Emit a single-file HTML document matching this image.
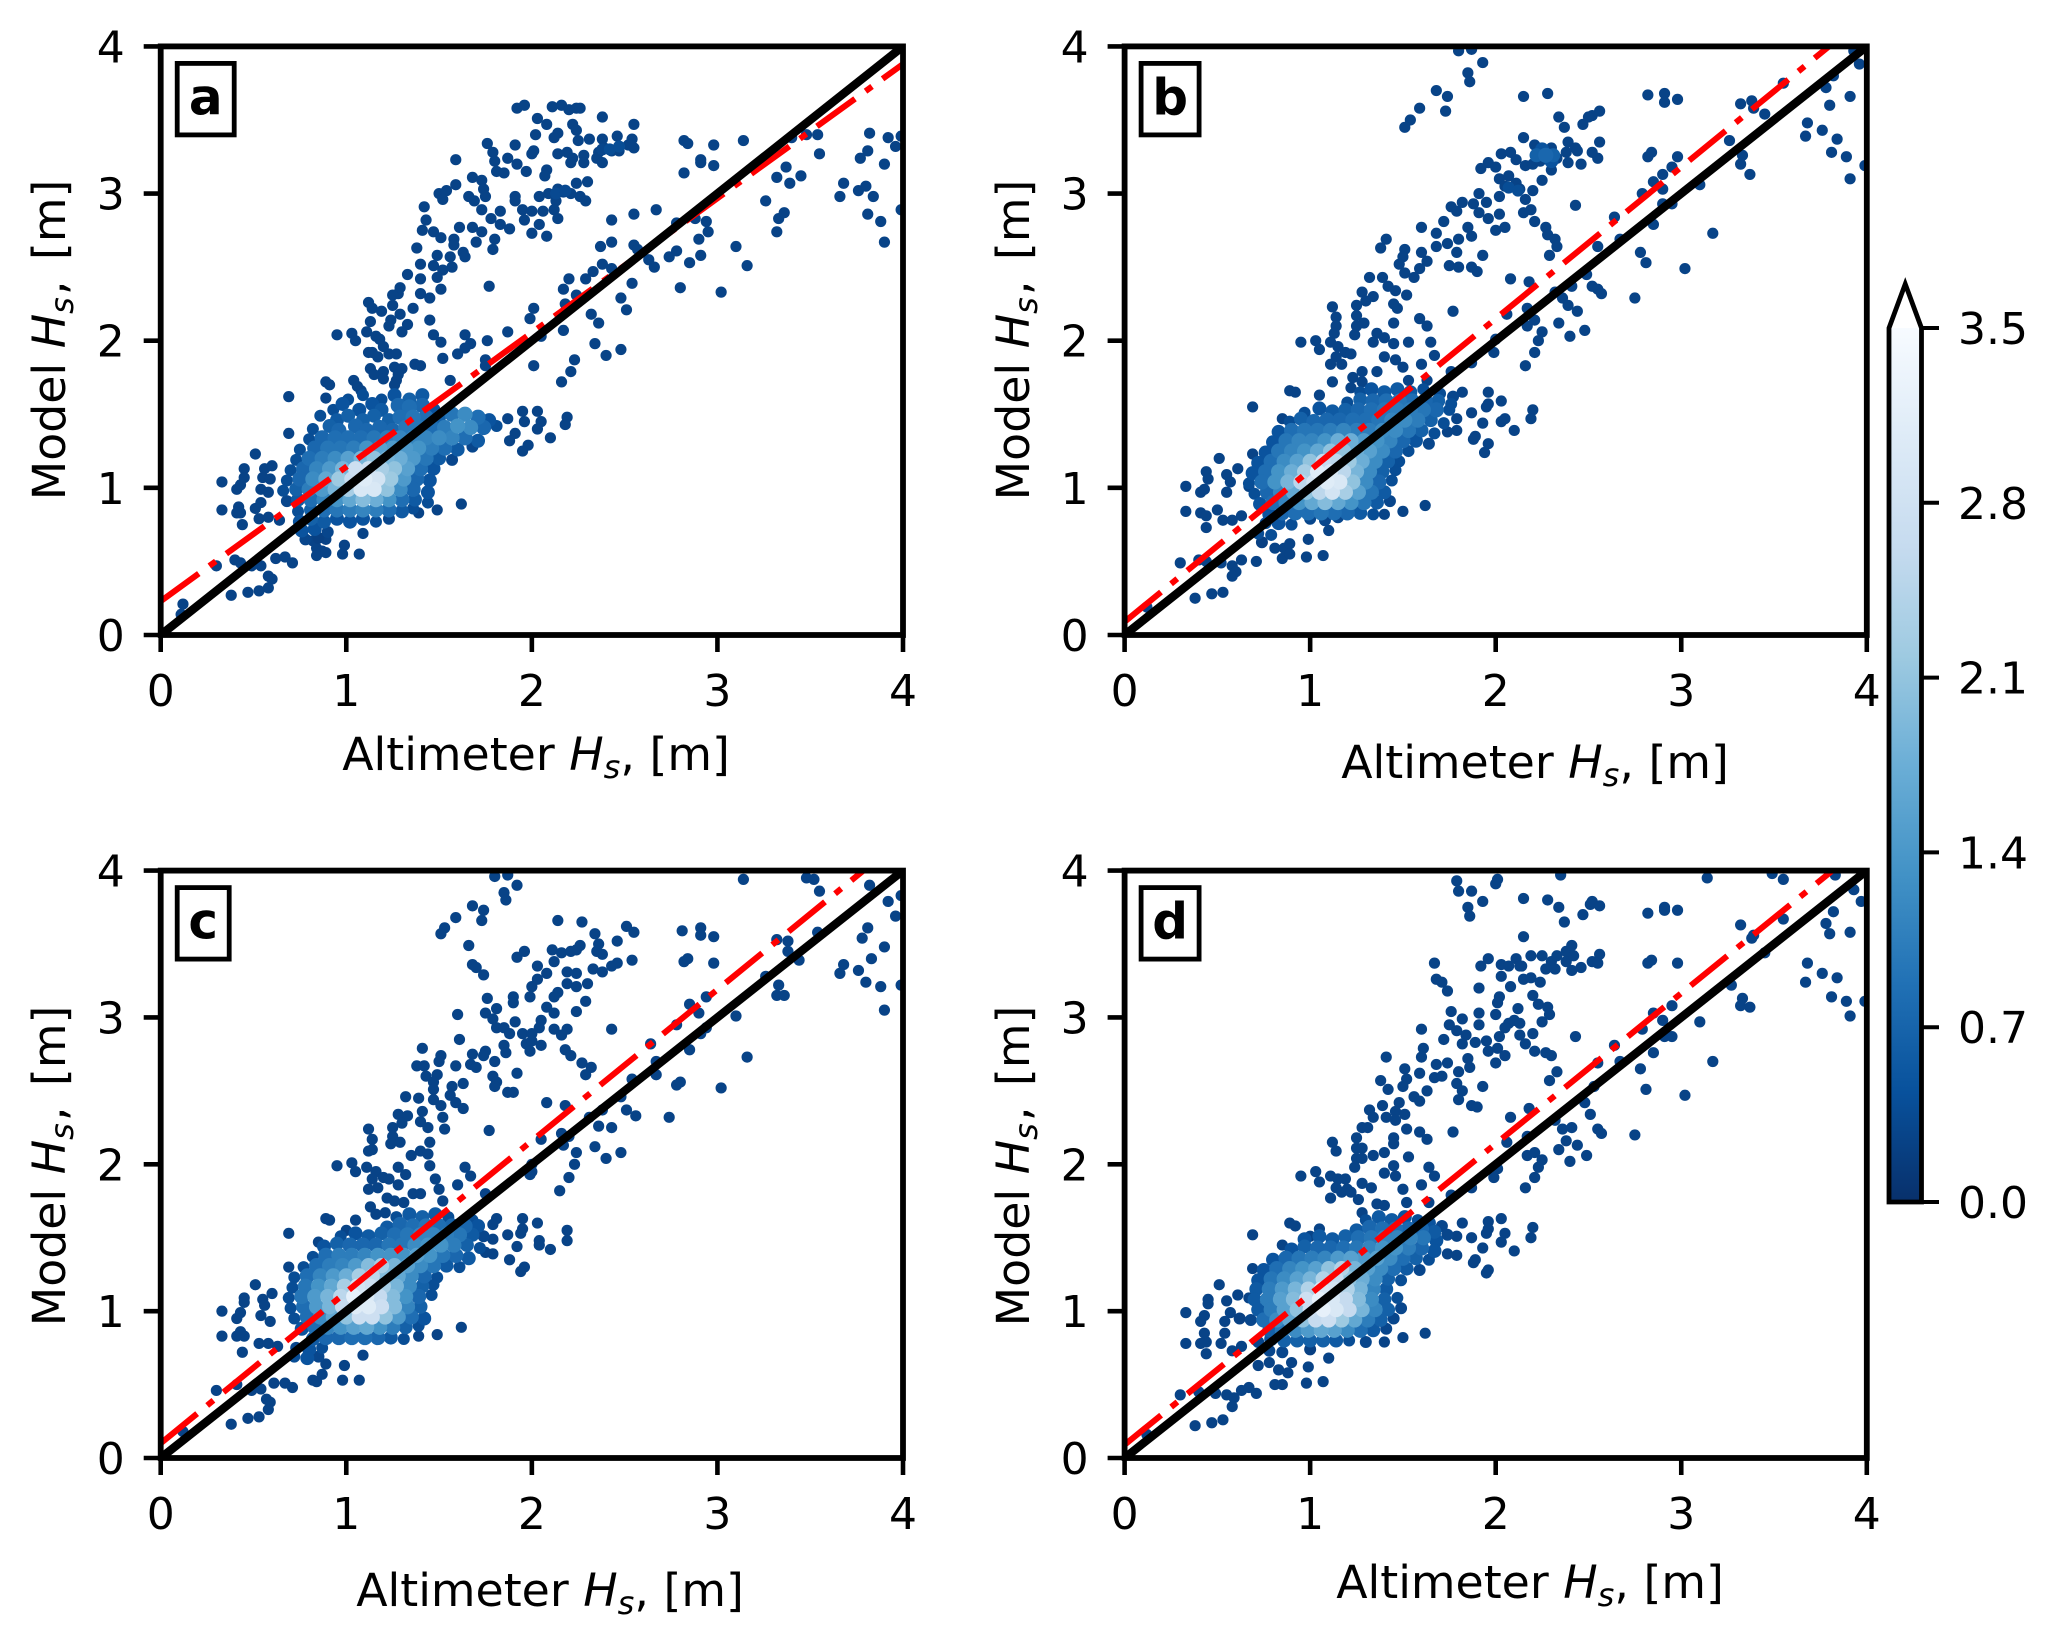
<!DOCTYPE html>
<html lang="en">
<head>
<meta charset="utf-8">
<title>Model vs altimeter significant wave height</title>
<style>
html,body{margin:0;padding:0;background:#fff;}
svg{display:block;}
text{font-family:"DejaVu Sans","Liberation Sans",sans-serif;fill:#000;}
</style>
</head>
<body>
<svg id="figure" xmlns="http://www.w3.org/2000/svg" width="2067" height="1636" viewBox="0 0 2067 1636">
<rect x="0" y="0" width="2067" height="1636" fill="#ffffff"/>
</svg>
<script>
const axisTicks = [0, 1, 2, 3, 4];
const axisMax = 4;
const colorbarTicks = ["0.0", "0.7", "1.4", "2.1", "2.8", "3.5"];
const colorbarMax = 3.5;
const outlierDensity = 0.25;
const cmapStops = ["#08306b", "#08519c", "#2171b5", "#4292c6", "#6baed6", "#9ecae1", "#c6dbef", "#deebf7", "#f7fbff"];

const fitInterceptA = 0.23, fitSlopeA = 0.9125;
const fitInterceptB = 0.09, fitSlopeB = 1.03;
const fitInterceptC = 0.10, fitSlopeC = 1.03;
const fitInterceptD = 0.09, fitSlopeD = 1.025;

const outliersA = [[1.92,3.58],[1.96,3.6],[2.11,3.59],[2.16,3.6],[2.2,3.57],[2.24,3.58],[2.26,3.58],[2.38,3.52],[2.03,3.51],[2.08,3.47],[2.22,3.47],[2.24,3.43],[2.55,3.47],[2.02,3.4],[2.14,3.41],[2.12,3.38],[2.46,3.39],[2.25,3.36],[2.31,3.37],[2.38,3.37],[2.54,3.37],[1.76,3.34],[1.91,3.33],[2.52,3.33],[2.55,3.31],[2.53,3.33],[2.39,3.31],[2.43,3.29],[2.36,3.28],[2.35,3.24],[2.47,3.29],[1.79,3.28],[1.8,3.22],[1.87,3.24],[2,3.27],[2.01,3.29],[2.14,3.27],[2.19,3.28],[2.28,3.26],[2.22,3.24],[2.21,3.21],[2.28,3.21],[2.38,3.21],[1.92,3.2],[1.59,3.23],[1.97,3.15],[1.81,3.15],[1.85,3.14],[2.08,3.16],[2.07,3.12],[1.68,3.11],[1.73,3.09],[1.59,3.06],[2.3,3.08],[2.24,3.07],[1.74,3.03],[2.14,3.03],[2.17,3.01],[2.09,3],[2.04,2.98],[2.21,3],[2.26,2.98],[2.29,2.95],[1.5,3],[1.54,3.02],[1.52,2.96],[1.66,2.98],[1.69,2.95],[1.75,2.98],[1.91,2.98],[1.91,2.95],[1.42,2.91],[2.13,2.95],[2.12,2.89],[2.14,2.83],[2.06,2.88],[1.95,2.89],[2,2.88],[1.83,2.88],[1.73,2.89],[1.43,2.82],[2.43,2.82],[1.96,2.82],[2.04,2.79],[1.78,2.83],[1.83,2.79],[1.88,2.76],[1.61,2.77],[1.68,2.77],[1.41,2.75],[1.47,2.74],[1.51,2.7],[1.73,2.74],[2,2.73],[2.08,2.71],[1.8,2.69],[1.7,2.67],[1.58,2.69],[1.58,2.65],[1.38,2.63],[1.79,2.62],[1.63,2.6],[1.64,2.57],[1.56,2.57],[1.49,2.58],[1.57,2.5],[1.4,2.52],[1.33,2.45],[1.47,2.51],[1.52,2.48],[1.49,2.43],[1.4,2.42],[1.51,2.35],[1.29,2.36],[1.28,2.32],[1.77,2.37],[1.4,2.32],[1.45,2.29],[1.25,2.31],[1.12,2.26],[1.25,2.24],[1.36,2.22],[1.14,2.22],[1.19,2.2],[1.29,2.18],[1.24,2.14],[1.45,2.14],[1.13,2.13],[1.33,2.11],[1.3,2.06],[1.11,2.06],[0.95,2.04],[1.03,2.05],[1.05,2],[1.23,2.1],[1.47,2.04],[1.64,2.04],[1.87,2.06],[1.16,2.03],[1.18,2.01],[1.2,1.96],[1.14,1.92],[1.23,1.91],[1.27,1.91],[1.12,1.92],[1.17,1.89],[1.51,1.99],[1.67,1.98],[1.64,1.95],[1.6,1.91],[1.52,1.88],[1.76,2],[1.37,1.84],[1.4,1.83],[1.75,1.87],[1.75,1.83],[1.26,1.82],[1.3,1.81],[1.13,1.81],[1.2,1.79],[1.15,1.77],[1.2,1.74],[1.28,1.77],[1.27,1.73],[1.26,1.7],[1.56,1.73],[0.89,1.72],[0.91,1.7],[1.04,1.73],[1.06,1.69],[1.08,1.66],[0.69,1.62],[0.89,1.61],[2.82,3.36],[2.84,3.34],[2.98,3.33],[3.14,3.36],[2.91,3.23],[2.91,3.21],[2.98,3.19],[2.82,3.14],[3.32,3.11],[3.37,3.18],[3.39,3.07],[3.45,3.12],[3.4,3.38],[3.48,3.4],[3.54,3.4],[3.55,3.27],[3.26,2.95],[3.33,2.83],[3.36,2.87],[3.32,2.74],[3.68,3.07],[3.66,2.98],[3.76,3.02],[3.8,3.05],[3.84,2.98],[3.81,2.86],[3.88,2.81],[3.9,2.67],[3.77,3.24],[3.81,3.29],[3.82,3.41],[3.92,3.38],[3.9,3.2],[3.96,3.32],[3.99,3.39],[3.99,2.89],[2.67,2.89],[2.55,2.86],[2.43,2.67],[2.37,2.64],[2.55,2.65],[2.57,2.62],[2.38,2.52],[2.33,2.47],[2.43,2.49],[2.2,2.42],[2.29,2.42],[2.17,2.35],[2.24,2.31],[2.18,2.25],[2.54,2.39],[2.48,2.29],[2.51,2.21],[2.32,2.18],[2.36,2.12],[2.17,2.07],[2.34,1.98],[2.48,1.94],[2.4,1.9],[2.23,1.87],[2.21,1.79],[2.16,1.72],[2.01,1.83],[1.99,2.15],[2.01,2.22],[2.05,2.03],[2.63,2.55],[2.66,2.5],[2.74,2.57],[2.78,2.61],[2.78,2.8],[2.88,2.83],[2.94,2.81],[2.9,2.69],[2.95,2.74],[2.91,2.58],[2.85,2.53],[2.8,2.36],[3.02,2.33],[3.1,2.64],[3.16,2.51],[1.87,1.47],[1.95,1.52],[2.03,1.52],[1.96,1.45],[2.05,1.45],[2.03,1.4],[1.91,1.37],[1.88,1.32],[1.98,1.29],[1.95,1.25],[2.19,1.48],[2.18,1.43],[2.1,1.34],[0.33,1.04],[0.33,0.85],[0.41,0.99],[0.43,1.02],[0.45,1.13],[0.45,1.07],[0.51,1.23],[0.56,1.13],[0.55,1.07],[0.6,1.15],[0.59,1.06],[0.54,0.99],[0.58,0.97],[0.42,0.87],[0.43,0.83],[0.41,0.83],[0.51,0.86],[0.54,0.9],[0.44,0.75],[0.53,0.79],[0.58,0.8],[0.64,0.78],[0.69,1.37],[0.3,0.47],[0.4,0.51],[0.43,0.49],[0.49,0.47],[0.54,0.47],[0.58,0.4],[0.6,0.38],[0.58,0.32],[0.53,0.3],[0.47,0.29],[0.38,0.27],[0.12,0.21],[0.11,0.14],[0.62,0.52],[0.67,0.53],[0.71,0.49],[0.89,0.65],[0.82,0.64],[0.84,0.59],[0.87,0.57],[0.84,0.54],[0.89,0.56],[0.99,0.61],[0.98,0.55],[1.07,0.55],[1.09,0.69],[1.62,0.89],[1.49,0.85],[1.39,0.83]];

const coreA = [[2.42,3.3,0.5],[2.47,3.32,0.5],[2.38,3.3,0.4],[2.13,3,0.45],[2.18,3.02,0.45],[1.01,1.6,0.5],[1.09,1.63,0.5],[1.19,1.6,0.5],[1.26,1.63,0.6],[1.34,1.6,0.8],[1.41,1.63,0.7],[0.93,1.53,0.5],[0.98,1.57,0.6],[1.07,1.53,0.6],[1.14,1.57,0.6],[1.19,1.53,0.7],[1.28,1.56,0.9],[1.34,1.55,1],[1.41,1.56,0.9],[1.47,1.53,0.6],[0.86,1.49,0.5],[0.95,1.46,0.7],[1.01,1.49,0.8],[1.09,1.46,0.8],[1.15,1.49,0.8],[1.23,1.46,0.8],[1.29,1.48,1],[1.36,1.48,1.1],[1.43,1.48,1],[1.5,1.48,0.8],[1.57,1.5,1.1],[1.64,1.5,1.4],[1.71,1.48,1],[1.77,1.46,0.6],[0.82,1.4,0.5],[0.91,1.42,0.8],[0.96,1.39,0.9],[1.05,1.42,0.9],[1.11,1.39,0.9],[1.18,1.41,0.9],[1.25,1.39,0.9],[1.32,1.41,1.1],[1.39,1.41,1.1],[1.46,1.41,1],[1.53,1.41,1.2],[1.6,1.42,1.5],[1.67,1.41,1.4],[1.74,1.41,0.9],[1.81,1.42,0.5],[0.8,1.33,0.5],[0.87,1.34,0.9],[0.94,1.34,1],[1.01,1.34,1],[1.08,1.34,1],[1.15,1.34,1.1],[1.22,1.34,1.2],[1.29,1.34,1.3],[1.36,1.34,1.3],[1.43,1.34,1.3],[1.5,1.34,1.4],[1.57,1.34,1.3],[1.64,1.34,1],[1.71,1.32,0.7],[0.75,1.26,0.5],[0.83,1.27,0.9],[0.9,1.27,1.1],[0.97,1.27,1.1],[1.04,1.27,1.2],[1.11,1.27,1.5],[1.18,1.27,1.7],[1.25,1.27,1.6],[1.32,1.27,1.6],[1.39,1.27,1.5],[1.46,1.27,1.2],[1.53,1.27,1],[1.6,1.26,0.7],[1.68,1.28,0.4],[0.73,1.19,0.5],[0.8,1.2,1],[0.87,1.2,1.2],[0.94,1.2,1.4],[1.01,1.2,1.7],[1.08,1.2,2],[1.15,1.2,2.2],[1.22,1.2,2],[1.29,1.2,1.9],[1.36,1.2,1.6],[1.43,1.2,1.1],[1.5,1.2,0.7],[1.57,1.19,0.4],[0.7,1.12,0.5],[0.77,1.13,0.9],[0.84,1.13,1.3],[0.91,1.13,1.6],[0.98,1.13,2],[1.05,1.13,2.8],[1.12,1.13,2.8],[1.19,1.13,2.4],[1.26,1.13,2.2],[1.33,1.13,1.7],[1.4,1.13,1],[1.47,1.13,0.6],[0.68,1.05,0.5],[0.75,1.06,0.9],[0.82,1.06,1.4],[0.89,1.06,1.8],[0.96,1.06,2.3],[1.03,1.06,2.7],[1.1,1.06,3.1],[1.17,1.06,2.9],[1.24,1.06,2.3],[1.31,1.06,1.6],[1.38,1.06,0.9],[1.45,1.05,0.6],[0.66,0.98,0.5],[0.73,0.99,0.8],[0.8,0.99,1.2],[0.87,0.99,1.6],[0.94,0.99,2],[1.01,0.99,2.4],[1.08,0.99,3],[1.15,0.99,3],[1.22,0.99,2.2],[1.29,0.99,1.4],[1.36,0.99,0.9],[1.44,0.97,0.6],[0.68,0.91,0.4],[0.74,0.92,0.7],[0.81,0.92,1],[0.88,0.92,1.3],[0.95,0.92,1.5],[1.02,0.92,1.8],[1.09,0.92,2.1],[1.16,0.92,1.9],[1.23,0.92,1.5],[1.3,0.92,1],[1.37,0.92,0.7],[1.44,0.9,0.5],[0.74,0.84,0.5],[0.81,0.85,0.8],[0.88,0.85,1],[0.95,0.85,1.1],[1.02,0.85,1.2],[1.09,0.85,1.3],[1.16,0.85,1.2],[1.23,0.85,1],[1.3,0.84,0.7],[1.36,0.86,0.5],[0.75,0.77,0.6],[0.81,0.79,0.8],[0.88,0.77,0.7],[0.95,0.79,0.6],[1.02,0.77,0.6],[1.09,0.79,0.6],[1.16,0.77,0.5],[1.23,0.79,0.4],[0.76,0.71,0.6],[0.83,0.72,0.6],[0.9,0.7,0.4],[0.78,0.65,0.4],[0.85,0.66,0.3]];

const outliersB = [[1.8,3.97],[1.87,3.98],[1.93,3.89],[1.85,3.82],[1.86,3.76],[1.68,3.7],[1.74,3.66],[1.73,3.56],[1.59,3.58],[1.54,3.5],[1.51,3.45],[2.15,3.66],[2.28,3.68],[2.34,3.52],[2.37,3.45],[2.47,3.47],[2.52,3.53],[2.5,3.52],[2.56,3.56],[2.82,3.67],[2.91,3.68],[2.91,3.62],[2.98,3.64],[3.32,3.61],[3.38,3.63],[3.39,3.58],[3.45,3.54],[3.55,3.75],[3.82,3.8],[3.78,3.72],[3.8,3.6],[3.91,3.66],[3.96,3.88],[3.93,3.97],[3.68,3.48],[3.67,3.39],[3.76,3.43],[3.84,3.37],[3.81,3.28],[3.89,3.25],[3.91,3.1],[3.99,3.19],[3.26,3.36],[3.33,3.26],[3.32,3.2],[3.37,3.13],[3.1,3.06],[3.17,2.73],[3.02,2.49],[2.75,2.29],[2.78,2.6],[2.81,2.53],[2.85,2.79],[2.9,3.03],[2.9,2.93],[2.95,2.93],[2.85,3.08],[2.79,3],[2.82,3.25],[2.84,3.28],[2.98,3.25],[2.95,3.18],[2.9,3.13],[2.15,3.38],[2.21,3.33],[2.25,3.28],[2.3,3.31],[2.28,3.24],[2.33,3.24],[2.39,3.35],[2.43,3.31],[2.38,3.28],[2.44,3.29],[2.46,3.2],[2.39,3.21],[2.55,3.24],[2.56,3.35],[2.52,3.28],[2.11,3.23],[2.16,3.19],[2.2,3.2],[2.24,3.22],[2.03,3.27],[2.08,3.28],[1.96,3.21],[1.92,3.17],[2,3.18],[2.3,3.16],[2.25,3.09],[2.02,3.1],[2.07,3.12],[2.11,3.07],[2.05,3.05],[2.02,2.98],[2.13,3.03],[2.2,3.02],[2.16,2.96],[2.19,2.89],[2.15,2.87],[1.91,3],[1.82,2.94],[1.88,2.93],[1.95,2.94],[1.76,2.91],[1.79,2.88],[1.91,2.87],[2.02,2.86],[1.96,2.83],[2.05,2.77],[2,2.75],[2.21,2.81],[2.27,2.77],[2.28,2.72],[2.32,2.69],[2.33,2.64],[2.29,2.58],[2.43,2.92],[1.72,2.81],[1.85,2.77],[1.6,2.77],[1.68,2.73],[1.87,2.71],[1.8,2.69],[1.41,2.69],[1.38,2.63],[1.51,2.62],[1.68,2.64],[1.74,2.66],[1.6,2.6],[1.79,2.6],[1.93,2.58],[1.63,2.54],[1.5,2.57],[1.48,2.52],[1.75,2.51],[1.8,2.5],[1.87,2.5],[1.9,2.47],[1.59,2.49],[1.51,2.46],[1.56,2.43],[1.32,2.43],[1.39,2.43],[1.42,2.37],[1.46,2.34],[1.52,2.31],[1.45,2.25],[1.47,2.22],[1.28,2.33],[1.34,2.3],[1.3,2.27],[1.25,2.24],[1.12,2.23],[1.14,2.16],[1.25,2.17],[1.29,2.12],[1.25,2.1],[1.14,2.1],[1.24,2.04],[1.36,2.05],[1.4,2.02],[1.34,1.99],[1.45,2.12],[1.59,2.15],[1.63,2.1],[1.77,2.2],[1.13,2.05],[1.11,1.99],[0.95,1.99],[1.03,2],[1.05,1.94],[1.15,1.96],[1.19,1.92],[1.14,1.89],[1.22,1.91],[1.17,1.84],[1.11,1.84],[1.45,1.98],[1.53,1.99],[1.4,1.89],[1.65,1.99],[1.67,1.9],[1.46,1.87],[1.5,1.82],[1.6,1.84],[1.28,1.79],[1.23,1.75],[1.36,1.79],[1.28,1.72],[1.12,1.72],[1.22,1.68],[1.53,1.73],[1.63,1.73],[1.76,1.79],[1.87,1.85],[2.08,2.42],[2.18,2.4],[2.06,2.18],[2.17,2.22],[2.21,2.14],[2.17,2.1],[2.25,2.06],[2.23,2],[2.21,1.92],[2.16,1.83],[2,2.01],[1.99,1.92],[2.32,2.33],[2.41,2.37],[2.36,2.29],[2.39,2.24],[2.44,2.2],[2.34,2.12],[2.4,2.03],[2.48,2.07],[2.55,2.64],[2.49,2.45],[2.52,2.37],[2.55,2.35],[2.57,2.32],[2.64,2.84],[2.67,2.69],[1.96,1.65],[2.03,1.59],[1.96,1.57],[1.95,1.55],[1.82,1.65],[1.87,1.51],[1.79,1.47],[1.93,1.44],[1.89,1.35],[1.88,1.33],[2.05,1.47],[2.03,1.45],[2.1,1.39],[2.2,1.53],[2.19,1.47],[1.96,1.3],[1.94,1.24],[1.79,1.39],[1.74,1.38],[0.33,1.01],[0.33,0.84],[0.44,1.11],[0.45,1.06],[0.41,0.97],[0.43,0.99],[0.51,1.2],[0.55,1.09],[0.61,1.13],[0.57,1.04],[0.55,0.97],[0.41,0.83],[0.44,0.81],[0.5,0.85],[0.44,0.73],[0.53,0.78],[0.58,0.78],[0.63,0.81],[0.69,1.55],[0.69,1.23],[0.67,1.01],[0.89,1.66],[0.92,1.65],[1.05,1.63],[0.85,1.47],[0.3,0.49],[0.4,0.51],[0.44,0.5],[0.52,0.49],[0.58,0.47],[0.6,0.43],[0.58,0.4],[0.38,0.25],[0.47,0.28],[0.53,0.29],[0.12,0.19],[0.63,0.51],[0.71,0.5],[0.81,0.59],[0.86,0.59],[0.89,0.62],[0.85,0.52],[0.89,0.55],[0.99,0.65],[0.98,0.53],[1.07,0.54],[1.1,0.71],[1.62,0.88],[1.5,0.84],[1.4,0.82]];

const coreB = [[2.22,3.26,0.8],[2.27,3.26,0.9],[2.31,3.26,0.8],[2.25,3.3,0.6],[2.3,3.22,0.6],[2.07,3.04,0.5],[2.12,3.02,0.5],[1.27,1.65,0.5],[1.33,1.67,0.6],[1.4,1.65,0.7],[1.47,1.67,0.7],[1.54,1.65,0.7],[1.61,1.67,0.5],[1.7,1.64,0.5],[1.77,1.62,0.4],[1.2,1.58,0.5],[1.27,1.6,0.8],[1.34,1.59,0.9],[1.41,1.59,1],[1.48,1.59,1.1],[1.55,1.59,1],[1.62,1.59,0.9],[1.69,1.59,0.8],[1.76,1.57,0.5],[0.97,1.51,0.5],[1.05,1.54,0.6],[1.12,1.52,0.7],[1.19,1.53,0.8],[1.26,1.53,0.9],[1.33,1.53,1],[1.4,1.53,1.1],[1.47,1.53,1.2],[1.54,1.53,1.2],[1.61,1.53,1.1],[1.68,1.53,0.9],[1.75,1.53,0.5],[0.89,1.45,0.5],[0.95,1.47,0.8],[1.02,1.45,0.9],[1.09,1.46,0.9],[1.16,1.46,0.9],[1.23,1.46,1],[1.3,1.46,1],[1.37,1.46,1.1],[1.44,1.46,1.3],[1.51,1.46,1.4],[1.58,1.46,1.2],[1.65,1.46,0.8],[1.72,1.44,0.5],[0.83,1.38,0.6],[0.9,1.39,1],[0.97,1.39,1.1],[1.04,1.39,1.1],[1.11,1.39,1.2],[1.18,1.39,1.3],[1.25,1.39,1.2],[1.32,1.39,1.2],[1.39,1.39,1.4],[1.46,1.39,1.4],[1.53,1.39,1.1],[1.6,1.39,0.8],[1.67,1.37,0.5],[0.8,1.31,0.6],[0.87,1.32,1.1],[0.94,1.32,1.3],[1.01,1.32,1.3],[1.08,1.32,1.5],[1.15,1.32,1.9],[1.22,1.32,1.9],[1.29,1.32,1.6],[1.36,1.32,1.5],[1.43,1.32,1.3],[1.5,1.32,0.9],[1.57,1.32,0.6],[1.64,1.3,0.4],[0.76,1.24,0.6],[0.83,1.25,1.1],[0.9,1.25,1.3],[0.97,1.25,1.5],[1.04,1.25,1.8],[1.11,1.25,2.2],[1.18,1.25,2.2],[1.25,1.25,1.9],[1.32,1.25,1.7],[1.39,1.25,1.4],[1.46,1.25,0.9],[1.53,1.25,0.5],[0.72,1.17,0.6],[0.79,1.18,1],[0.86,1.18,1.4],[0.93,1.18,1.7],[1,1.18,2.2],[1.07,1.18,2.7],[1.14,1.18,2.6],[1.21,1.18,2.3],[1.28,1.18,1.9],[1.35,1.18,1.4],[1.42,1.18,0.8],[1.48,1.18,0.5],[0.69,1.1,0.6],[0.76,1.11,1],[0.83,1.11,1.5],[0.9,1.11,1.9],[0.97,1.11,2.4],[1.04,1.11,3.1],[1.11,1.11,3],[1.18,1.11,2.6],[1.25,1.11,2],[1.32,1.11,1.4],[1.39,1.11,0.8],[1.46,1.12,0.5],[0.67,1.03,0.5],[0.74,1.04,1],[0.81,1.04,1.5],[0.88,1.04,2],[0.95,1.04,2.6],[1.02,1.04,2.9],[1.09,1.04,3.1],[1.16,1.04,3],[1.23,1.04,2.2],[1.3,1.04,1.4],[1.37,1.04,0.9],[1.44,1.05,0.5],[0.7,0.96,0.5],[0.77,0.97,0.9],[0.84,0.97,1.3],[0.91,0.97,1.8],[0.98,0.97,2.2],[1.05,0.97,2.6],[1.12,0.97,2.9],[1.19,0.97,2.4],[1.26,0.97,1.7],[1.33,0.97,1.1],[1.4,0.97,0.7],[0.73,0.89,0.6],[0.8,0.9,1],[0.87,0.9,1.3],[0.94,0.9,1.5],[1.01,0.9,1.8],[1.08,0.9,2.1],[1.15,0.9,1.8],[1.22,0.9,1.5],[1.29,0.9,1.1],[1.36,0.9,0.7],[1.43,0.91,0.4],[0.78,0.82,0.6],[0.85,0.83,0.9],[0.92,0.83,1],[0.99,0.83,1],[1.06,0.83,1.1],[1.13,0.83,1],[1.2,0.83,0.9],[1.27,0.83,0.7],[1.34,0.82,0.5],[0.76,0.76,0.5],[0.83,0.76,0.6],[0.9,0.75,0.5],[1,0.79,0.4],[1.08,0.78,0.4],[1.15,0.8,0.4],[0.72,0.69,0.5],[0.79,0.68,0.5],[0.74,0.63,0.3]];

const outliersC = [[1.8,3.96],[1.87,3.97],[1.92,3.9],[1.85,3.85],[1.86,3.8],[1.68,3.76],[1.74,3.73],[1.73,3.66],[1.59,3.68],[1.53,3.61],[1.51,3.57],[2.14,3.66],[2.27,3.65],[2.34,3.57],[2.36,3.5],[2.46,3.52],[2.51,3.62],[2.55,3.58],[2.81,3.59],[2.91,3.61],[2.91,3.56],[2.98,3.55],[3.14,3.94],[3.32,3.53],[3.38,3.52],[3.38,3.45],[3.44,3.39],[3.48,3.95],[3.52,3.94],[3.55,3.86],[3.54,3.58],[3.82,3.9],[3.92,3.79],[3.96,3.69],[3.99,3.83],[3.81,3.61],[3.78,3.54],[3.9,3.48],[3.83,3.4],[3.76,3.32],[3.68,3.36],[3.66,3.3],[3.8,3.24],[3.88,3.21],[3.99,3.22],[3.9,3.05],[3.26,3.28],[3.33,3.22],[3.32,3.15],[3.36,3.15],[3.1,3.01],[3.16,2.73],[3.02,2.52],[2.74,2.32],[2.78,2.54],[2.8,2.56],[2.85,2.78],[2.91,2.89],[2.94,2.93],[2.78,2.95],[2.85,3.09],[2.94,3.14],[2.9,3.03],[2.82,3.38],[2.84,3.4],[2.98,3.37],[2.11,3.46],[2.16,3.44],[2.21,3.45],[2.26,3.49],[2.24,3.46],[2.35,3.45],[2.38,3.43],[2.46,3.37],[2.54,3.39],[2.43,3.35],[2.33,3.33],[2.38,3.31],[1.92,3.41],[1.96,3.45],[2.03,3.35],[2.12,3.38],[2.08,3.3],[2.03,3.26],[2,3.21],[2.19,3.31],[2.24,3.3],[2.19,3.23],[2.24,3.21],[2.3,3.23],[2.14,3.17],[2.12,3.14],[1.99,3.14],[1.9,3.14],[1.9,3.1],[1.76,3.13],[1.66,3.49],[1.68,3.36],[1.7,3.34],[1.74,3.29],[2.29,3.11],[2.24,3.04],[2.08,3.07],[2.12,3.03],[2.05,2.98],[2.04,2.93],[1.81,3.06],[1.75,3.03],[1.79,2.99],[1.81,2.93],[1.85,2.93],[1.88,2.89],[1.91,2.97],[1.6,3.02],[1.95,2.89],[2,2.89],[1.97,2.82],[2,2.84],[2.05,2.81],[1.99,2.77],[2.12,2.92],[2.16,2.88],[2.19,2.92],[2.18,2.78],[2.21,2.74],[2.43,2.92],[2.27,2.69],[2.32,2.66],[2.29,2.61],[1.61,2.85],[1.41,2.79],[1.51,2.74],[1.5,2.7],[1.38,2.67],[1.42,2.67],[1.59,2.67],[1.68,2.75],[1.75,2.77],[1.74,2.74],[1.67,2.68],[1.7,2.66],[1.85,2.81],[1.86,2.76],[1.8,2.7],[1.79,2.6],[1.81,2.56],[1.8,2.53],[1.92,2.62],[1.87,2.49],[1.9,2.49],[1.43,2.6],[1.49,2.61],[1.47,2.56],[1.47,2.51],[1.63,2.55],[1.57,2.53],[1.56,2.47],[1.59,2.42],[1.32,2.46],[1.39,2.45],[1.47,2.44],[1.51,2.4],[1.63,2.38],[1.41,2.36],[1.52,2.32],[1.28,2.34],[1.33,2.33],[1.3,2.28],[1.25,2.25],[1.4,2.29],[1.12,2.24],[1.44,2.25],[1.53,2.24],[1.77,2.23],[1.25,2.19],[1.14,2.17],[1.29,2.15],[1.24,2.14],[1.45,2.15],[1.12,2.09],[1.14,2.1],[1.4,2.09],[1.35,2.06],[1.44,2.07],[0.95,1.99],[1.03,2.01],[1.05,1.95],[1.11,1.98],[1.28,1.98],[1.32,1.93],[1.45,1.99],[1.16,1.95],[1.2,1.91],[1.14,1.9],[1.23,1.9],[1.17,1.84],[1.12,1.83],[1.28,1.86],[1.48,1.9],[1.5,1.83],[1.36,1.8],[1.4,1.8],[1.64,1.98],[1.67,1.92],[1.6,1.86],[1.75,1.8],[1.52,1.75],[1.22,1.77],[1.26,1.75],[1.31,1.74],[1.21,1.67],[1.13,1.71],[1.16,1.66],[2.08,2.42],[2.18,2.4],[2.05,2.17],[2.16,2.21],[2.2,2.19],[2.17,2.13],[2.24,2.08],[2.23,2],[2.2,1.91],[2.15,1.82],[2,1.95],[2,2],[1.99,1.93],[2.34,2.12],[2.4,2.04],[2.48,2.08],[2.31,2.32],[2.36,2.26],[2.38,2.37],[2.43,2.25],[2.48,2.46],[2.51,2.37],[2.56,2.33],[2.54,2.58],[2.67,2.61],[2.64,2.82],[2.67,2.7],[1.95,1.63],[2.03,1.6],[1.95,1.56],[1.94,1.53],[1.81,1.63],[1.79,1.59],[1.87,1.52],[1.79,1.49],[1.92,1.44],[1.88,1.35],[2.04,1.48],[2.04,1.45],[2.1,1.42],[2.19,1.55],[2.19,1.48],[1.96,1.3],[1.94,1.27],[1.79,1.39],[1.75,1.4],[0.33,1],[0.33,0.83],[0.45,1.09],[0.45,1.06],[0.41,0.95],[0.43,0.99],[0.51,1.18],[0.55,1.08],[0.6,1.12],[0.56,1.04],[0.54,0.97],[0.59,0.93],[0.41,0.83],[0.45,0.83],[0.43,0.86],[0.44,0.72],[0.53,0.78],[0.58,0.78],[0.63,0.76],[0.69,1.53],[0.69,1.3],[0.89,1.63],[0.91,1.62],[0.85,1.47],[1,1.55],[1.05,1.62],[0.3,0.46],[0.41,0.5],[0.49,0.46],[0.54,0.47],[0.57,0.4],[0.59,0.38],[0.58,0.33],[0.53,0.28],[0.47,0.27],[0.38,0.23],[0.12,0.18],[0.61,0.51],[0.67,0.51],[0.71,0.48],[0.82,0.53],[0.84,0.52],[0.89,0.64],[0.87,0.57],[0.99,0.63],[0.98,0.53],[1.07,0.53],[1.09,0.7],[1.62,0.89],[1.49,0.84],[1.39,0.83]];

const coreC = [[1.27,1.64,0.5],[1.34,1.66,0.7],[1.41,1.64,0.8],[1.48,1.66,0.7],[1.55,1.64,0.5],[1.68,1.62,0.5],[1.22,1.57,0.7],[1.29,1.59,0.9],[1.36,1.58,1],[1.43,1.58,1.1],[1.5,1.58,1],[1.57,1.58,0.9],[1.64,1.58,0.9],[1.71,1.58,0.6],[0.97,1.51,0.5],[1.05,1.53,0.6],[1.12,1.51,0.7],[1.19,1.53,0.8],[1.26,1.52,1],[1.33,1.52,1.1],[1.4,1.52,1.3],[1.47,1.52,1.3],[1.54,1.52,1.2],[1.61,1.52,1.1],[1.68,1.52,0.7],[1.74,1.51,0.4],[0.88,1.44,0.6],[0.95,1.46,0.8],[1.02,1.45,0.9],[1.09,1.45,0.9],[1.16,1.45,0.9],[1.23,1.45,1.1],[1.3,1.45,1.1],[1.37,1.45,1.4],[1.44,1.45,1.5],[1.51,1.45,1.5],[1.58,1.45,1.2],[1.65,1.45,0.8],[1.72,1.43,0.5],[0.82,1.37,0.5],[0.89,1.38,1],[0.96,1.38,1.2],[1.03,1.38,1.2],[1.1,1.38,1.3],[1.17,1.38,1.5],[1.24,1.38,1.5],[1.31,1.38,1.5],[1.38,1.38,1.7],[1.45,1.38,1.5],[1.52,1.38,1.1],[1.59,1.38,0.9],[1.66,1.36,0.7],[0.77,1.3,0.5],[0.84,1.31,1],[0.91,1.31,1.2],[0.98,1.31,1.3],[1.05,1.31,1.6],[1.12,1.31,2.1],[1.19,1.31,2.4],[1.26,1.31,2],[1.33,1.31,1.7],[1.4,1.31,1.4],[1.47,1.31,1.1],[1.54,1.31,0.7],[1.61,1.3,0.5],[0.72,1.23,0.5],[0.79,1.24,1],[0.86,1.24,1.3],[0.93,1.24,1.6],[1,1.24,1.9],[1.07,1.24,2.4],[1.14,1.24,2.6],[1.21,1.24,2.1],[1.28,1.24,1.8],[1.35,1.24,1.4],[1.42,1.24,0.9],[1.49,1.23,0.5],[0.71,1.16,0.5],[0.78,1.17,1.1],[0.85,1.17,1.5],[0.92,1.17,1.8],[0.99,1.17,2.4],[1.06,1.17,2.9],[1.13,1.17,2.8],[1.2,1.17,2.4],[1.27,1.17,2],[1.34,1.17,1.4],[1.41,1.17,0.8],[1.47,1.18,0.5],[0.69,1.09,0.5],[0.76,1.1,1.1],[0.83,1.1,1.6],[0.9,1.1,2],[0.97,1.1,2.6],[1.04,1.1,3.2],[1.11,1.1,3],[1.18,1.1,2.7],[1.25,1.1,2.1],[1.32,1.1,1.5],[1.39,1.1,0.9],[1.46,1.11,0.5],[0.7,1.02,0.5],[0.77,1.03,1],[0.84,1.03,1.6],[0.91,1.03,2],[0.98,1.03,2.7],[1.05,1.03,3.1],[1.12,1.03,3.1],[1.19,1.03,2.8],[1.26,1.03,2.1],[1.33,1.03,1.3],[1.4,1.03,0.8],[0.72,0.95,0.5],[0.79,0.96,1],[0.86,0.96,1.4],[0.93,0.96,1.8],[1,0.96,2.2],[1.07,0.96,2.8],[1.14,0.96,2.8],[1.21,0.96,2.2],[1.28,0.96,1.6],[1.35,0.96,1],[1.42,0.95,0.6],[0.76,0.88,0.6],[0.83,0.89,1],[0.9,0.89,1.3],[0.97,0.89,1.5],[1.04,0.89,1.7],[1.11,0.89,1.8],[1.18,0.89,1.5],[1.25,0.89,1.2],[1.32,0.89,0.8],[1.39,0.9,0.5],[0.82,0.81,0.7],[0.89,0.82,0.9],[0.96,0.82,0.9],[1.03,0.82,1],[1.1,0.82,1],[1.17,0.82,0.9],[1.24,0.82,0.7],[1.31,0.81,0.5],[0.73,0.75,0.4],[0.8,0.74,0.6],[0.87,0.75,0.5],[0.72,0.69,0.5],[0.79,0.68,0.6],[0.85,0.69,0.4]];

const outliersD = [[1.79,3.93],[1.8,3.86],[1.87,3.86],[2.01,3.94],[2,3.91],[2.35,3.97],[1.93,3.79],[1.85,3.75],[1.86,3.69],[2.15,3.81],[2.28,3.8],[2.34,3.75],[2.37,3.65],[2.47,3.7],[2.51,3.77],[2.52,3.79],[2.56,3.76],[2.82,3.71],[2.91,3.75],[2.91,3.73],[2.98,3.73],[3.14,3.95],[3.32,3.63],[3.39,3.56],[3.38,3.54],[3.45,3.44],[3.55,3.67],[3.49,3.98],[3.55,3.94],[3.83,3.97],[3.93,3.87],[3.82,3.72],[3.78,3.64],[3.8,3.57],[3.91,3.58],[3.97,3.79],[3.68,3.37],[3.67,3.24],[3.76,3.3],[3.84,3.27],[3.81,3.14],[3.89,3.11],[3.91,3.01],[3.99,3.11],[3.27,3.22],[3.33,3.13],[3.32,3.08],[3.37,3.07],[3.1,2.97],[3.17,2.7],[3.02,2.47],[2.75,2.2],[2.78,2.65],[2.81,2.51],[2.85,2.76],[2.9,2.98],[2.91,2.87],[2.95,2.87],[2.85,3.03],[2.79,2.92],[2.82,3.37],[2.84,3.39],[2.98,3.37],[2.95,3.08],[2.03,3.36],[2.07,3.35],[2.11,3.4],[2.13,3.35],[2.19,3.42],[2.25,3.42],[2.3,3.38],[2.33,3.42],[2.38,3.45],[2.41,3.49],[2.38,3.38],[2.42,3.42],[2.46,3.34],[2.52,3.38],[2.56,3.43],[2.55,3.37],[2.27,3.33],[2.32,3.33],[2.41,3.32],[2.14,3.35],[2.15,3.55],[1.96,3.4],[1.92,3.35],[2.03,3.28],[2.08,3.21],[1.91,3.2],[2.15,3.26],[2.19,3.27],[2.24,3.24],[2.2,3.15],[2.23,3.09],[2.28,3.07],[2.29,3.02],[2.25,2.97],[2.02,3.14],[2.01,3.1],[1.91,3.03],[2,3.02],[2.12,3.06],[2.07,2.96],[2.1,2.98],[2.13,2.96],[2.05,2.93],[2.02,2.87],[2.2,2.89],[2.13,2.88],[2.16,2.82],[2.21,2.77],[2.27,2.76],[2.3,2.74],[2.33,2.63],[2.29,2.57],[2.43,2.87],[1.96,2.77],[2.01,2.79],[2.05,2.74],[2,2.69],[1.67,3.37],[1.68,3.26],[1.71,3.24],[1.74,3.18],[1.76,3.04],[1.82,2.99],[1.75,2.95],[1.79,2.91],[1.91,2.95],[1.84,2.88],[1.82,2.82],[1.89,2.83],[1.95,2.84],[1.6,2.92],[1.72,2.85],[1.61,2.79],[1.6,2.73],[1.41,2.73],[1.85,2.72],[1.86,2.66],[1.68,2.68],[1.74,2.69],[1.8,2.63],[1.59,2.62],[1.51,2.65],[1.52,2.58],[1.38,2.57],[1.67,2.59],[1.71,2.6],[1.79,2.55],[1.82,2.5],[1.8,2.44],[1.93,2.53],[1.87,2.4],[1.9,2.39],[1.63,2.5],[1.42,2.51],[1.5,2.53],[1.48,2.42],[1.56,2.46],[1.59,2.43],[1.39,2.4],[1.32,2.37],[1.34,2.32],[1.41,2.32],[1.46,2.36],[1.51,2.34],[1.46,2.3],[1.28,2.25],[1.31,2.25],[1.52,2.24],[1.59,2.22],[1.63,2.17],[1.77,2.22],[1.25,2.18],[1.12,2.15],[1.45,2.18],[1.45,2.14],[1.25,2.11],[1.28,2.11],[1.14,2.09],[1.34,2.06],[1.4,2.08],[1.53,2.05],[1.25,2.04],[1.28,2.04],[1.24,1.98],[1.45,1.99],[1.64,1.98],[1.67,1.92],[1.4,1.94],[1.46,1.92],[1.5,1.83],[1.6,1.86],[0.95,1.92],[1.03,1.95],[1.05,1.88],[1.11,1.92],[1.15,1.9],[1.19,1.9],[1.14,1.84],[1.2,1.83],[1.28,1.87],[1.33,1.84],[1.11,1.77],[1.17,1.81],[1.22,1.81],[1.26,1.76],[1.36,1.73],[1.4,1.72],[1.28,1.67],[1.52,1.74],[1.64,1.74],[1.76,1.79],[1.87,1.84],[2.08,2.32],[2.18,2.38],[2.06,2.15],[2.17,2.19],[2.17,2.06],[2.21,2.08],[2.25,2.03],[2.23,1.98],[2.21,1.91],[2.16,1.84],[2.01,1.97],[1.99,1.91],[2.32,2.3],[2.41,2.25],[2.36,2.24],[2.38,2.16],[2.44,2.13],[2.34,2.1],[2.4,2.02],[2.49,2.06],[2.53,2.53],[2.48,2.42],[2.51,2.34],[2.55,2.24],[2.57,2.21],[2.64,2.81],[2.55,2.69],[2.67,2.7],[1.96,1.61],[2.03,1.63],[1.96,1.56],[1.95,1.53],[1.82,1.6],[1.79,1.51],[1.87,1.5],[1.93,1.43],[1.89,1.35],[1.88,1.33],[2.05,1.53],[2.03,1.47],[2.1,1.41],[2.2,1.57],[2.19,1.5],[1.96,1.28],[1.95,1.26],[1.74,1.39],[1.79,1.38],[0.33,0.99],[0.33,0.78],[0.45,1.08],[0.45,1.05],[0.41,0.93],[0.43,0.97],[0.51,1.18],[0.55,1.07],[0.61,1.11],[0.57,0.99],[0.54,0.93],[0.41,0.78],[0.44,0.79],[0.44,0.71],[0.43,0.85],[0.54,0.85],[0.52,0.78],[0.58,0.73],[0.63,0.76],[0.69,1.52],[0.69,1.29],[0.67,1.09],[0.89,1.6],[0.92,1.58],[1,1.51],[1.05,1.56],[0.85,1.45],[0.3,0.43],[0.4,0.45],[0.49,0.44],[0.55,0.43],[0.59,0.41],[0.58,0.35],[0.38,0.22],[0.47,0.24],[0.53,0.26],[0.12,0.16],[0.63,0.46],[0.67,0.48],[0.71,0.44],[0.72,0.63],[0.78,0.65],[0.83,0.6],[0.88,0.58],[0.9,0.65],[0.85,0.5],[0.81,0.5],[0.99,0.62],[0.98,0.51],[1.07,0.52],[1.1,0.68],[1.62,0.85],[1.5,0.82],[1.4,0.79]];

const coreD = [[1.3,1.62,0.5],[1.37,1.64,0.7],[1.44,1.62,0.7],[1.51,1.64,0.6],[1.58,1.62,0.5],[1.64,1.6,0.6],[1.71,1.58,0.4],[1.25,1.55,0.7],[1.32,1.57,0.9],[1.39,1.56,1],[1.46,1.56,1],[1.53,1.56,0.9],[1.6,1.56,0.9],[1.67,1.54,0.7],[1.74,1.52,0.4],[0.97,1.49,0.6],[1.05,1.51,0.7],[1.12,1.49,0.7],[1.19,1.51,0.8],[1.26,1.5,1],[1.33,1.5,1.1],[1.4,1.5,1.3],[1.47,1.5,1.3],[1.54,1.5,1.3],[1.61,1.5,1.1],[1.68,1.48,0.6],[0.9,1.42,0.6],[0.97,1.44,0.8],[1.04,1.43,0.9],[1.11,1.43,0.9],[1.18,1.43,1],[1.25,1.43,1.1],[1.32,1.43,1.3],[1.39,1.43,1.5],[1.46,1.43,1.5],[1.53,1.43,1.2],[1.6,1.43,0.9],[1.67,1.41,0.6],[0.8,1.35,0.6],[0.87,1.36,0.9],[0.94,1.36,1.1],[1.01,1.36,1.2],[1.08,1.36,1.3],[1.15,1.36,1.6],[1.22,1.36,1.7],[1.29,1.36,1.6],[1.36,1.36,1.7],[1.43,1.36,1.4],[1.5,1.36,1],[1.57,1.36,0.8],[1.64,1.35,0.5],[0.75,1.28,0.6],[0.82,1.29,1],[0.89,1.29,1.3],[0.96,1.29,1.5],[1.03,1.29,1.7],[1.1,1.29,2.2],[1.17,1.29,2.5],[1.24,1.29,2],[1.31,1.29,1.7],[1.38,1.29,1.4],[1.45,1.29,1],[1.52,1.29,0.7],[1.59,1.28,0.4],[0.72,1.21,0.6],[0.79,1.22,1.1],[0.86,1.22,1.4],[0.93,1.22,1.7],[1,1.22,2],[1.07,1.22,2.5],[1.14,1.22,2.7],[1.21,1.22,2.2],[1.28,1.22,1.9],[1.35,1.22,1.4],[1.42,1.22,0.8],[1.49,1.21,0.5],[0.71,1.15,0.7],[0.78,1.15,1.2],[0.85,1.15,1.6],[0.92,1.15,2],[0.99,1.15,2.5],[1.06,1.15,3],[1.13,1.15,2.9],[1.2,1.15,2.5],[1.27,1.15,2],[1.34,1.15,1.3],[1.41,1.15,0.7],[0.7,1.08,0.7],[0.77,1.08,1.2],[0.84,1.08,1.7],[0.91,1.08,2.1],[0.98,1.08,2.8],[1.05,1.08,3.2],[1.12,1.08,3],[1.19,1.08,2.7],[1.26,1.08,2.1],[1.33,1.08,1.4],[1.4,1.08,0.8],[1.47,1.09,0.5],[0.72,1.01,0.7],[0.79,1.01,1.2],[0.86,1.01,1.7],[0.93,1.01,2.2],[1,1.01,2.8],[1.07,1.01,3.2],[1.14,1.01,3],[1.21,1.01,2.7],[1.28,1.01,2],[1.35,1.01,1.3],[1.42,1.01,0.8],[1.49,1.02,0.4],[0.62,0.95,0.3],[0.68,0.94,0.4],[0.75,0.94,1],[0.82,0.94,1.4],[0.89,0.94,1.8],[0.96,0.94,2.2],[1.03,0.94,2.7],[1.1,0.94,2.8],[1.17,0.94,2.3],[1.24,0.94,1.8],[1.31,0.94,1.2],[1.38,0.94,0.8],[1.45,0.95,0.4],[0.78,0.87,0.8],[0.85,0.87,1.1],[0.92,0.87,1.4],[0.99,0.87,1.6],[1.06,0.87,1.8],[1.13,0.87,1.7],[1.2,0.87,1.4],[1.27,0.87,1],[1.34,0.87,0.7],[1.41,0.88,0.4],[0.72,0.79,0.4],[0.79,0.81,0.6],[0.86,0.8,0.8],[0.93,0.8,0.8],[1,0.8,0.8],[1.07,0.8,0.8],[1.14,0.8,0.7],[1.21,0.8,0.5],[1.3,0.79,0.4],[0.78,0.73,0.4],[0.85,0.72,0.4],[1,0.74,0.3]];

const SVG_NS = "http://www.w3.org/2000/svg";
const figure = document.getElementById("figure");

function makeEl(tag, attrs, parent) {
  const el = document.createElementNS(SVG_NS, tag);
  for (const key in attrs) el.setAttribute(key, attrs[key]);
  parent.appendChild(el);
  return el;
}

function hexToRgb(hex) {
  return [parseInt(hex.slice(1, 3), 16), parseInt(hex.slice(3, 5), 16), parseInt(hex.slice(5, 7), 16)];
}

function densityColor(value) {
  const t = Math.max(0, Math.min(1, value / colorbarMax)) * (cmapStops.length - 1);
  const i = Math.min(cmapStops.length - 2, Math.floor(t));
  const a = hexToRgb(cmapStops[i]);
  const b = hexToRgb(cmapStops[i + 1]);
  const f = t - i;
  return "rgb(" + a.map((c, k) => Math.round(c + (b[k] - c) * f)).join(",") + ")";
}

function shownDensity(value) {
  return Math.pow(value, 1.15) / Math.pow(3.2, 0.15);
}

function denseRadius(value) {
  if (value < 0.55) return 6;
  if (value < 0.85) return 7;
  return 7.6;
}

function titleMarkup(prefix, commaGap, bracketGap) {
  return prefix + ' <tspan font-style="italic">H</tspan><tspan font-style="italic" font-size="32" dy="8">s</tspan><tspan dy="-8" dx="' + commaGap + '">,</tspan><tspan dx="' + bracketGap + '"> [m]</tspan>';
}

function drawPanel(cfg) {
  const xScale = v => cfg.left + (v / axisMax) * (cfg.right - cfg.left);
  const yScale = v => cfg.bottom - (v / axisMax) * (cfg.bottom - cfg.top);

  const group = makeEl("g", {}, figure);
  
  

  const clip = makeEl("clipPath", { id: "clip-" + cfg.letter }, group);
  makeEl("rect", { x: cfg.left, y: cfg.top, width: cfg.right - cfg.left, height: cfg.bottom - cfg.top }, clip);

  const marks = makeEl("g", { "clip-path": "url(#clip-" + cfg.letter + ")" }, group);
  
  

  cfg.outliers.forEach(p => {
    const dot = makeEl("circle", { cx: xScale(p[0]), cy: yScale(p[1]), r: 5.6, fill: densityColor(outlierDensity) }, marks);
    
    
  });
  cfg.core.slice().sort((a, b) => a[2] - b[2]).forEach(p => {
    const dot = makeEl("circle", { cx: xScale(p[0]), cy: yScale(p[1]), r: denseRadius(p[2]), fill: densityColor(shownDensity(p[2])) }, marks);
    
    
  });

  const fit = makeEl("line", {
    x1: xScale(0), y1: yScale(cfg.intercept),
    x2: xScale(axisMax), y2: yScale(cfg.intercept + cfg.slope * axisMax),
    stroke: "#ff0000", "stroke-width": 6, "stroke-dasharray": "47 13 8 13", "clip-path": "url(#clip-" + cfg.letter + ")"
  }, group);
  
  

  const identity = makeEl("line", {
    x1: xScale(0), y1: yScale(0), x2: xScale(axisMax), y2: yScale(axisMax),
    stroke: "#000000", "stroke-width": 8.4, "clip-path": "url(#clip-" + cfg.letter + ")"
  }, group);
  
  

  const frame = makeEl("rect", { x: cfg.left, y: cfg.top, width: cfg.right - cfg.left, height: cfg.bottom - cfg.top, fill: "none", stroke: "#000", "stroke-width": 5.8, "stroke-linejoin": "miter" }, group);
  
  

  axisTicks.forEach(t => {
    const xt = makeEl("line", { x1: xScale(t), y1: cfg.bottom, x2: xScale(t), y2: cfg.bottom + 17, stroke: "#000", "stroke-width": 4.6 }, group);
    
    
    const xl = makeEl("text", { x: xScale(t), y: cfg.bottom + 71, "font-size": 44, "text-anchor": "middle" }, group);
    xl.textContent = String(t);
    
    
    const yt = makeEl("line", { x1: cfg.left - 17, y1: yScale(t), x2: cfg.left, y2: yScale(t), stroke: "#000", "stroke-width": 4.6 }, group);
    
    
    const yl = makeEl("text", { x: cfg.left - 36, y: yScale(t) + 16, "font-size": 44, "text-anchor": "end" }, group);
    yl.textContent = String(t);
    
    
  });

  const xTitle = makeEl("text", { x: cfg.xTitleX, y: cfg.xTitleY, "font-size": 45.8, "text-anchor": "middle" }, group);
  xTitle.innerHTML = titleMarkup("Altimeter", 0, 0);
  
  

  const yTitleX = cfg.left - 95.8;
  const yTitle = makeEl("text", { x: yTitleX, y: cfg.yTitleY, "font-size": 45.8, "text-anchor": "middle", transform: "rotate(-90 " + yTitleX + " " + cfg.yTitleY + ")" }, group);
  yTitle.innerHTML = titleMarkup("Model", 2, 6);
  
  

  const badge = makeEl("rect", { x: cfg.left + 16.5, y: cfg.top + 17, width: cfg.badgeWidth, height: 71.5, fill: "#fff", stroke: "#000", "stroke-width": 4.8 }, group);
  
  
  const badgeText = makeEl("text", { x: cfg.left + 16.5 + cfg.badgeWidth / 2, y: cfg.top + 68, "font-size": 50, "font-weight": "bold", "text-anchor": "middle" }, group);
  badgeText.textContent = cfg.letter;
  
  
}

drawPanel({ letter: "a", left: 160.7, right: 903, top: 46.4, bottom: 635, outliers: outliersA, core: coreA, intercept: fitInterceptA, slope: fitSlopeA, xTitleX: 536, xTitleY: 770, yTitleY: 340, badgeWidth: 57 });
drawPanel({ letter: "b", left: 1124.6, right: 1866.8, top: 46.4, bottom: 635, outliers: outliersB, core: coreB, intercept: fitInterceptB, slope: fitSlopeB, xTitleX: 1535, xTitleY: 778, yTitleY: 340, badgeWidth: 58 });
drawPanel({ letter: "c", left: 160.7, right: 903, top: 870.6, bottom: 1458, outliers: outliersC, core: coreC, intercept: fitInterceptC, slope: fitSlopeC, xTitleX: 550, xTitleY: 1606, yTitleY: 1166, badgeWidth: 52 });
drawPanel({ letter: "d", left: 1124.6, right: 1866.8, top: 870.6, bottom: 1458, outliers: outliersD, core: coreD, intercept: fitInterceptD, slope: fitSlopeD, xTitleX: 1530, xTitleY: 1598, yTitleY: 1166, badgeWidth: 58 });

const cbLeft = 1889, cbRight = 1921.5, cbTop = 328, cbBottom = 1202, cbTip = 284;
const cbGroup = makeEl("g", {}, figure);


const defs = makeEl("defs", {}, cbGroup);
const gradient = makeEl("linearGradient", { id: "blues-gradient", x1: 0, y1: 1, x2: 0, y2: 0 }, defs);
cmapStops.forEach((color, i) => {
  makeEl("stop", { offset: (i / (cmapStops.length - 1) * 100) + "%", "stop-color": color }, gradient);
});
const cbBar = makeEl("rect", { x: cbLeft, y: cbTop, width: cbRight - cbLeft, height: cbBottom - cbTop, fill: "url(#blues-gradient)" }, cbGroup);


const cbOutline = makeEl("polygon", {
  points: cbLeft + "," + cbBottom + " " + cbLeft + "," + cbTop + " " + ((cbLeft + cbRight) / 2) + "," + cbTip + " " + cbRight + "," + cbTop + " " + cbRight + "," + cbBottom,
  fill: "none", stroke: "#000", "stroke-width": 4.8
}, cbGroup);


colorbarTicks.forEach(label => {
  const y = cbBottom - (parseFloat(label) / colorbarMax) * (cbBottom - cbTop);
  const tick = makeEl("line", { x1: cbRight, y1: y, x2: 1939, y2: y, stroke: "#000", "stroke-width": 4 }, cbGroup);
  
  
  const text = makeEl("text", { x: 1958, y: y + 16, "font-size": 44 }, cbGroup);
  text.textContent = label;
  
  
});
</script>
</body>
</html>
